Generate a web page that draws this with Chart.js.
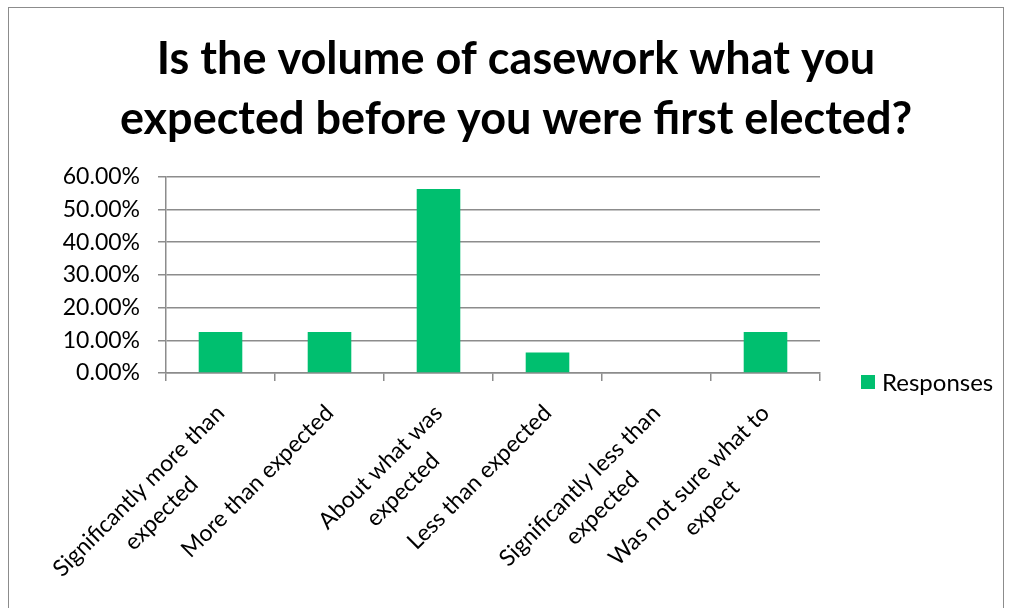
<!DOCTYPE html>
<html>
<head>
<meta charset="utf-8">
<script src="https://cdn.jsdelivr.net/npm/chart.js@4"></script>
<style>
  body { margin: 0; background: #fff; }
  #wrap { position: relative; width: 1012px; height: 608px; }
  #frame { position: absolute; left: 8px; top: 7px; width: 996px; height: 620px; border: 1.5px solid #8c8c8c; box-sizing: border-box; }
  canvas { position: absolute; left: 0; top: 0; }
</style>
</head>
<body>
<div id="wrap">
  <div id="frame"></div>
  <canvas id="chart" width="1012" height="608"></canvas>
</div>
<script>
const titleLines = ['Is the volume of casework what you', 'expected before you were first elected?'];
const categories = [
    ['Significantly more than', 'expected'],
    'More than expected',
    ['About what was', 'expected'],
    'Less than expected',
    ['Significantly less than', 'expected'],
    ['Was not sure what to', 'expect']
];
const responses = [12.5, 12.5, 56.25, 6.25, 0, 12.5];
const yTicks = [0, 10, 20, 30, 40, 50, 60];

const FONT = 'Lato, "DejaVu Sans", sans-serif';
const gridColor = '#8c8c8c';

// title across the whole canvas, legend right of the plot, wrapped x labels centred
const layoutTweaks = {
    id: 'layoutTweaks',
    afterLayout(chart) {
        const t = chart.titleBlock;
        if (t) { t.left = 20; t.right = chart.width; t.width = chart.width - 20; }
    },
    beforeDraw(chart) {
        const s = chart.scales.x;
        const c = chart.ctx;
        s.getLabelItems().forEach(item => {
            if (!Array.isArray(item.label) || item._centred) return;
            c.font = item.font.string;
            const w = Math.max(...item.label.map(l => c.measureText(l).width));
            const r = item.options.rotation;
            item.options.translation[0] -= Math.cos(r) * w / 2;
            item.options.translation[1] -= Math.sin(r) * w / 2;
            item.options.textAlign = 'center';
            item._centred = true;
        });
    },
    afterDraw(chart) {
        const c = chart.ctx;
        const area = chart.chartArea;
        const ds = chart.data.datasets[0];
        const x = area.right + 41;
        const y = area.bottom + 9;
        c.save();
        c.fillStyle = ds.backgroundColor;
        c.fillRect(x, y - 7, 14, 14);
        c.fillStyle = '#000';
        c.font = '24px ' + FONT;
        c.textBaseline = 'middle';
        c.fillText(ds.label, x + 21, y + 1);
        c.restore();
    }
};

const ctx = document.getElementById('chart').getContext('2d');
new Chart(ctx, {
    type: 'bar',
    data: {
        labels: categories,
        datasets: [{
            label: 'Responses',
            data: responses,
            backgroundColor: '#00bf6f',
            barPercentage: 0.4,
            categoryPercentage: 1
        }]
    },
    plugins: [layoutTweaks],
    options: {
        responsive: false,
        animation: false,
        layout: { padding: { left: 0, right: 192, top: 0, bottom: 0 } },
        plugins: {
            title: {
                display: true,
                text: titleLines,
                color: '#000',
                font: { family: FONT, size: 45, weight: 'bold', lineHeight: 1.33 },
                padding: { top: 30, bottom: 27 }
            },
            legend: { display: false },
            tooltip: { enabled: false }
        },
        scales: {
            x: {
                afterFit: (axis) => { axis.height = 235; },
                grid: {
                    offset: true,
                    drawOnChartArea: false,
                    drawTicks: true,
                    tickLength: 8,
                    color: gridColor,
                    lineWidth: 1.5
                },
                border: { color: gridColor, width: 1.5 },
                ticks: {
                    color: '#000',
                    font: { family: FONT, size: 23, lineHeight: 1.38 },
                    padding: 17,
                    minRotation: 45,
                    maxRotation: 45,
                    autoSkip: false
                }
            },
            y: {
                min: 0,
                max: 60,
                afterFit: (axis) => { axis.width = 166; },
                afterBuildTicks: (axis) => { axis.ticks = yTicks.map(v => ({ value: v })); },
                grid: {
                    color: gridColor,
                    lineWidth: 1.5,
                    drawTicks: true,
                    tickLength: 8
                },
                border: { color: gridColor, width: 1.5 },
                ticks: {
                    color: '#000',
                    font: { family: FONT, size: 23 },
                    padding: 18,
                    callback: (v) => v.toFixed(2) + '%'
                }
            }
        }
    }
});
</script>
</body>
</html>
